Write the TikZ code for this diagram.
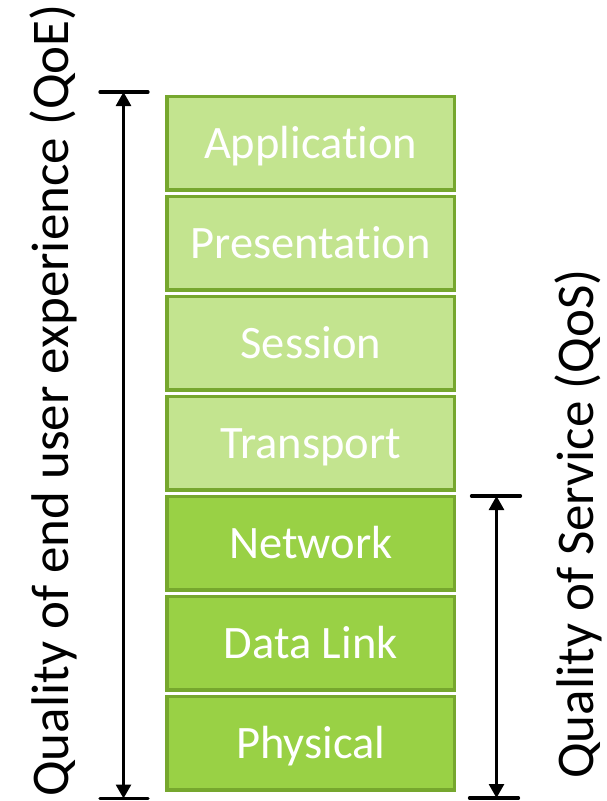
\documentclass[tikz,border=0pt]{standalone}
\usepackage{fontspec}
\setmainfont{Carlito}[Ligatures=NoCommon]
\usepackage{tikz}
\usetikzlibrary{arrows.meta}
\usetikzlibrary{positioning}
\definecolor{lightlayer}{RGB}{195,228,143}
\definecolor{darklayer}{RGB}{153,209,69}
\definecolor{layerborder}{RGB}{118,167,46}

\begin{document}
\begin{tikzpicture}[x=1pt,y=-1pt,
    node distance=100pt,on grid,
    layer/.style={draw=layerborder,line width=3.5pt,rectangle,
      minimum width=287.5pt,minimum height=93.5pt,inner sep=0pt,
      text=white,font=\fontsize{46.5}{50}\selectfont,
      text height=30pt,text depth=0pt},
    upper/.style={layer,fill=lightlayer},
    lower/.style={layer,fill=darklayer},
    sidelabel/.style={rotate=90,anchor=base west,inner sep=0pt,
      font=\fontsize{53}{56}\selectfont},
    spanarrow/.style={line width=2.7pt,{Triangle[width=15pt,length=14pt]}-{Triangle[width=15pt,length=14pt]}},
    spancap/.style={line width=3.3pt,line cap=round}]
  \useasboundingbox (0,0) rectangle (607,801);

  \node[upper] (app) at (310.75,143.25) {Application};
  \node[upper] (pres) [below=of app] {Presentation};
  \node[upper] (sess) [below=of pres] {Session};
  \node[upper] (trans) [below=of sess] {Transport};
  \node[lower] (net) [below=of trans] {Network};
  \node[lower] (link) [below=of net] {Data Link};
  \node[lower] (phys) [below=of link] {Physical};

  \coordinate (qoetop) at (123.5,92);
  \coordinate (qoebot) at (123.5,798.5);
  \coordinate (qostop) at (496.5,496);
  \coordinate (qosbot) at (496.5,798);

  \draw[spancap] ([xshift=-23.5pt]qoetop) -- ([xshift=24.5pt]qoetop);
  \draw[spancap] ([xshift=-23.5pt]qoebot) -- ([xshift=24.5pt]qoebot);
  \draw[spanarrow] (qoetop) -- (qoebot);
  \draw[spancap] ([xshift=-25pt]qostop) -- ([xshift=24pt]qostop);
  \draw[spancap] ([xshift=-27pt]qosbot) -- ([xshift=22pt]qosbot);
  \draw[spanarrow] (qostop) -- (qosbot);

  \node[sidelabel] (qoe) at (68,797) {Quality of end user experience (QoE)};
  \node[sidelabel] (qos) at (593.5,779) {Quality of Service (QoS)};
\end{tikzpicture}
\end{document}
